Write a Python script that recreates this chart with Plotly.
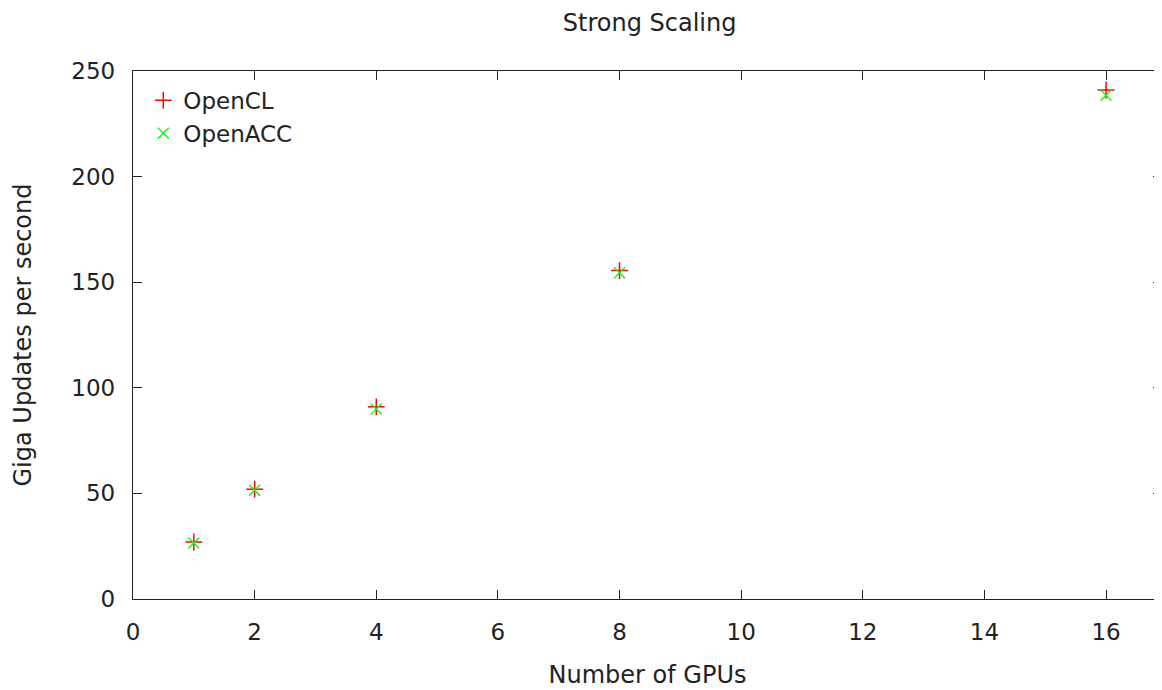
import plotly.graph_objects as go

gpus = [1, 2, 4, 8, 16]
opencl = [27, 52, 91, 155.5, 241]
openacc = [26.5, 51.5, 90, 154.5, 238.5]

x_ticks = [0, 2, 4, 6, 8, 10, 12, 14, 16]
y_ticks = [0, 50, 100, 150, 200, 250]

font = "DejaVu Sans"
ink = "#222222"

fig = go.Figure()
fig.add_trace(go.Scatter(
    x=gpus, y=opencl, mode="markers", name="OpenCL",
    marker=dict(symbol="cross-thin", size=12, line=dict(color="#ff0000", width=1.5), color="#ff0000"),
))
fig.add_trace(go.Scatter(
    x=gpus, y=openacc, mode="markers", name="OpenACC",
    marker=dict(symbol="x-thin", size=11, line=dict(color="#22ee22", width=1.5), color="#22ee22"),
))
fig.add_trace(go.Scatter(x=[], y=[], yaxis="y2", showlegend=False, hoverinfo="skip"))

axis_common = dict(
    ticks="inside", ticklen=9, tickwidth=1.3, tickcolor=ink,
    showgrid=False, zeroline=False,
    tickfont=dict(family=font, size=23, color=ink),
)

fig.update_layout(
    width=1154, height=682,
    margin=dict(l=125, r=0, t=63, b=91),
    paper_bgcolor="white", plot_bgcolor="white",
    title=dict(text="Strong Scaling", x=0.556, xanchor="center", y=0.979, yanchor="middle",
               font=dict(family=font, size=24, color=ink)),
    xaxis=dict(
        range=[0, 16.92], tickvals=x_ticks,
        showline=True, linecolor=ink, linewidth=1.3, mirror="ticks",
        title=dict(text="Number of GPUs", font=dict(family=font, size=24, color=ink), standoff=22),
        ticklabelstandoff=12,
        **axis_common,
    ),
    yaxis=dict(
        range=[0, 250], tickvals=y_ticks,
        showline=True, linecolor=ink, linewidth=1.3, mirror=False,
        title=dict(text="Giga Updates per second", font=dict(family=font, size=24, color=ink), standoff=32),
        ticklabelstandoff=12,
        **axis_common,
    ),
    yaxis2=dict(
        range=[0, 250], tickvals=y_ticks, overlaying="y", side="right",
        showticklabels=False, showline=False,
        ticks="inside", ticklen=9, tickwidth=1.3, tickcolor=ink,
        showgrid=False, zeroline=False,
    ),
    legend=dict(
        x=0.01, y=0.985, xanchor="left", yanchor="top",
        bgcolor="rgba(0,0,0,0)", borderwidth=0,
        font=dict(family=font, size=23, color=ink),
        tracegroupgap=0, itemwidth=30,
    ),
    showlegend=True,
)

fig.write_html("out.html")
